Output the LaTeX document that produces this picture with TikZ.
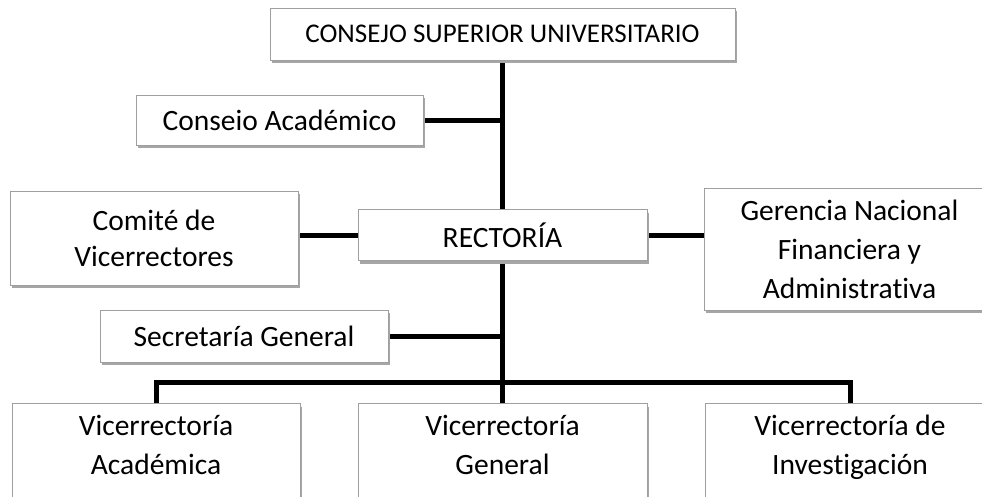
\documentclass[tikz,border=0pt]{standalone}
\usepackage{fontspec}
\setmainfont[Ligatures=NoCommon]{Carlito}
\usetikzlibrary{shadows,backgrounds}
\begin{document}
\begin{tikzpicture}[x=1pt,y=-1pt,
  box/.style={draw=gray!75, line width=1pt, fill=white, inner sep=0pt,
    drop shadow={shadow xshift=2pt, shadow yshift=-3pt, fill=gray!70, opacity=1},
    font=\fontsize{29.5}{39}\selectfont, align=center},
  vtext/.style={font=\fontsize{29.5}{39}\selectfont, align=center, anchor=north, inner sep=0pt},
  conn/.style={line width=5pt, black}]
\useasboundingbox (0,0) rectangle (982,496);
\clip (0,0) rectangle (982,496);
\node[box, minimum width=465pt, minimum height=52pt, font=\fontsize{27}{36}\selectfont] (csu) at (502.5,34) {CONSEJO SUPERIOR UNIVERSITARIO};
\node[box, minimum width=287pt, minimum height=50pt] (ca) at (279.5,120) {Conseio Académico};
\node[box, minimum width=288pt, minimum height=94pt, font=\fontsize{29.5}{36}\selectfont] (cv) at (154,238) {Comité de\\Vicerrectores};
\node[box, minimum width=289pt, minimum height=51pt] (rec) at (502.5,235) {RECTORÍA};
\node[box, minimum width=291pt, minimum height=122pt] (ger) at (849.5,249) {Gerencia Nacional\\Financiera y\\Administrativa};
\node[box, minimum width=288pt, minimum height=52pt] (sg) at (244,336) {Secretaría General};
\node[box, minimum width=288pt, minimum height=110pt, anchor=north] (va) at (156,403) {};
\node[box, minimum width=289pt, minimum height=110pt, anchor=north] (vg) at (502.5,403) {};
\node[box, minimum width=289pt, minimum height=110pt, anchor=north] (vi) at (850,403) {};
\node[vtext] (vat) at (156,415) {Vicerrectoría\\Académica};
\node[vtext] (vgt) at (502.5,415) {Vicerrectoría\\General};
\node[vtext] (vit) at (850,415) {Vicerrectoría de\\Investigación};
\coordinate (bus) at (502.5,382);
\begin{scope}[on background layer]
\draw[conn] (csu.south) -- (bus) -- (vg.north);
\draw[conn] (va.north) |- (bus) -| (vi.north);
\draw[conn] (ca.east) -- (ca.east -| csu.south);
\draw[conn] (sg.east) -- (sg.east -| csu.south);
\draw[conn] (cv.east |- rec.west) -- (rec.west);
\draw[conn] (rec.east) -- (rec.east -| ger.west);
\end{scope}
\end{tikzpicture}
\end{document}
